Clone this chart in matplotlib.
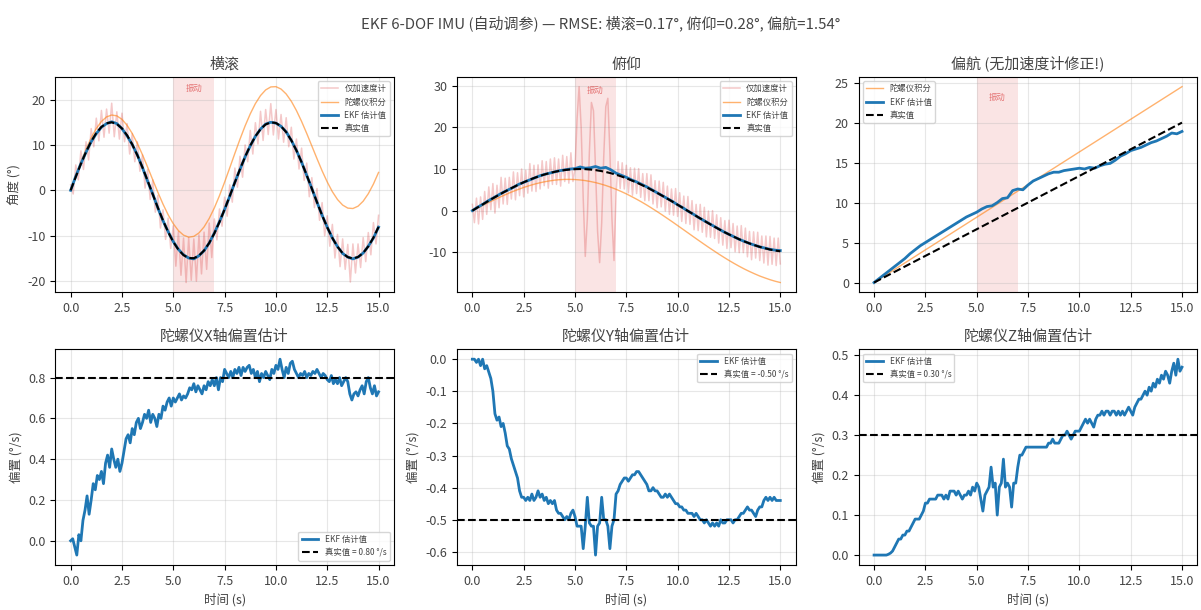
import numpy as np
import matplotlib

matplotlib.use("Agg")
import matplotlib.pyplot as plt
from matplotlib.ticker import MultipleLocator

plt.rcParams["font.family"] = ["Noto Sans CJK SC", "DejaVu Sans"]
plt.rcParams["font.size"] = 9
plt.rcParams["font.weight"] = "light"
plt.rcParams["axes.titleweight"] = "light"
plt.rcParams["axes.labelweight"] = "light"
plt.rcParams["figure.titleweight"] = "light"
plt.rcParams["axes.unicode_minus"] = False
for key in ("text.color", "axes.labelcolor", "xtick.labelcolor", "ytick.labelcolor"):
    plt.rcParams[key] = "#444444"

# vibration window (s)
VIB_START, VIB_END = 5.0, 7.0

# RMSE of the EKF angles (deg)
RMSE_ROLL, RMSE_PITCH, RMSE_YAW = 0.17, 0.28, 1.54

# ---- roll (deg) ----
# accelerometer-only roll, 0.125 s steps
ROLL_ACC = [
    1.2, -0.8, 5.6, 2.3, 8.7, 4.6, 10.7, 6.7, 13.6, 9.6,
    15.9, 10.9, 17.6, 11.7, 17.9, 12.6, 19.2, 11.8, 17.3, 11.3,
    17.0, 10.7, 14.7, 8.0, 12.5, 6.3, 10.7, 4.2, 7.8, 0.5,
    4.6, -2.0, 2.3, -4.8, -1.1, -8.3, -4.3, -10.8, -6.1, -12.8,
    -7.8, -16.7, -9.1, -18.7, -10.5, -20.3, -10.4, -19.8, -10.7, -20.0,
    -9.8, -18.4, -9.2, -17.4, -7.2, -14.8, -6.3, -10.9, -4.1, -7.9,
    -1.5, -5.7, 1.2, -2.6, 4.9, 0.7, 7.5, 2.9, 10.0, 6.3,
    13.2, 8.0, 14.9, 10.2, 17.4, 11.0, 17.8, 12.3, 19.1, 12.2,
    17.8, 11.3, 16.7, 10.6, 16.0, 9.6, 13.9, 6.9, 11.3, 4.7,
    9.3, 2.2, 6.0, -1.4, 2.8, -3.8, 0.4, -6.6, -2.7, -10.0,
    -5.6, -12.3, -7.5, -14.9, -9.7, -16.8, -10.7, -17.4, -11.9, -20.2,
    -11.8, -18.2, -11.8, -17.0, -10.4, -15.7, -9.3, -14.2, -7.1, -11.8,
    -5.5,
]
# gyro-integrated roll, 0.25 s steps
ROLL_GYRO = [
    0.0, 3.18, 6.24, 9.07, 11.56, 13.62, 15.18, 16.18, 16.59, 16.41,
    15.64, 14.33, 12.53, 10.33, 7.83, 5.12, 2.32, -0.43, -3.04, -5.38,
    -7.35, -8.87, -9.87, -10.31, -10.14, -9.38, -8.05, -6.19, -3.87, -1.17,
    1.81, 4.95, 8.15, 11.27, 14.21, 16.85, 19.11, 20.88, 22.12, 22.78,
    22.84, 22.31, 21.22, 19.62, 17.57, 15.18, 12.54, 9.77, 6.99, 4.30,
    1.84, -0.30, -2.02, -3.24, -3.91, -4.00, -3.49, -2.39, -0.74, 1.39,
    3.95,
]
ROLL_EKF = [
    0.0, 3.1, 5.9, 8.4, 10.7, 12.5, 13.9, 14.7, 15.1, 14.7,
    13.6, 12.0, 10.1, 7.8, 5.0, 2.0, -0.8, -3.9, -6.7, -9.1,
    -11.3, -13.0, -14.2, -14.9, -15.1, -14.4, -13.3, -11.6, -9.4, -6.9,
    -4.2, -1.3, 1.8, 4.6, 7.4, 9.8, 11.9, 13.5, 14.6, 15.0,
    14.8, 14.1, 12.9, 11.0, 8.8, 6.2, 3.3, 0.4, -2.6, -5.5,
    -8.1, -10.5, -12.4, -13.9, -14.7, -15.1, -14.7, -13.8, -12.3, -10.5,
    -8.1,
]
ROLL_TRUE = [
    0.0, 2.98, 5.84, 8.47, 10.76, 12.62, 13.98, 14.78, 14.99, 14.61,
    13.64, 12.13, 10.13, 7.73, 5.03, 2.12, -0.88, -3.83, -6.64, -9.18,
    -11.35, -13.07, -14.27, -14.91, -14.94, -14.38, -13.25, -11.59, -9.47, -6.97,
    -4.19, -1.25, 1.75, 4.67, 7.41, 9.85, 11.91, 13.48, 14.52, 14.98,
    14.84, 14.11, 12.82, 11.02, 8.77, 6.18, 3.34, 0.37, -2.61, -5.50,
    -8.16, -10.50, -12.42, -13.84, -14.71, -15.00, -14.69, -13.79, -12.34, -10.41,
    -8.05,
]

# ---- pitch (deg) ----
# accelerometer-only pitch, 0.1 s steps
PITCH_ACC = [
    1.5, -2.9, 3.0, -3.2, 3.3, -2.1, 4.6, -0.9, 5.7, 0.2,
    6.5, -0.6, 6.1, 0.7, 8.0, 1.6, 7.8, 1.5, 8.0, 2.8,
    9.3, 2.6, 9.1, 3.6, 10.0, 3.3, 9.7, 4.2, 11.3, 4.7,
    10.9, 4.6, 11.0, 5.2, 12.0, 6.0, 11.8, 5.4, 12.4, 6.3,
    12.7, 6.3, 12.4, 5.9, 13.3, 7.0, 13.0, 6.6, 13.9, 7.0,
    10.0, 22.0, 29.8, 20.0, 3.0, -11.0, -2.0, 14.0, 26.0, 24.0,
    10.0, -5.0, -12.5, -3.0, 13.0, 25.0, 27.0, 14.0, -2.0, -12.0,
    4.0, 11.8, 5.3, 11.5, 5.2, 10.9, 4.3, 10.3, 3.7, 10.2,
    4.1, 10.1, 3.2, 8.9, 2.4, 8.9, 2.4, 8.6, 1.6, 7.2,
    0.7, 7.1, 0.9, 6.8, -0.1, 5.9, -0.9, 5.2, -1.1, 5.3,
    -1.4, 4.3, -2.6, 3.5, -3.1, 3.4, -3.3, 2.4, -4.6, 1.5,
    -4.8, 1.5, -5.2, 0.8, -6.3, -0.1, -6.4, 0.0, -6.7, -1.0,
    -7.8, -1.7, -8.3, -2.4, -9.1, -2.3, -8.9, -3.1, -9.9, -3.7,
    -10.1, -3.6, -10.1, -4.2, -11.1, -5.0, -11.8, -5.1, -11.4, -5.2,
    -12.0, -6.1, -12.6, -6.1, -13.1, -6.2, -12.9, -6.6, -13.2, -6.6,
    -12.8,
]
# gyro-integrated pitch, 0.25 s steps
PITCH_GYRO = [
    0.0, 0.62, 1.24, 1.86, 2.46, 3.04, 3.60, 4.14, 4.65, 5.12,
    5.57, 5.97, 6.33, 6.65, 6.92, 7.14, 7.32, 7.44, 7.51, 7.51,
    7.47, 7.37, 7.22, 7.00, 6.74, 6.41, 6.04, 5.61, 5.13, 4.60,
    4.03, 3.40, 2.75, 2.06, 1.33, 0.56, -0.23, -1.04, -1.88, -2.72,
    -3.59, -4.46, -5.33, -6.21, -7.08, -7.94, -8.79, -9.61, -10.43, -11.21,
    -11.97, -12.69, -13.38, -14.03, -14.63, -15.19, -15.72, -16.17, -16.60, -16.97,
    -17.28,
]
PITCH_EKF = [
    0.0, 0.8, 1.5, 2.3, 3.0, 3.7, 4.4, 5.0, 5.6, 6.3,
    6.8, 7.3, 7.8, 8.3, 8.7, 9.0, 9.3, 9.6, 9.8, 10.0,
    10.1, 10.5, 10.2, 10.3, 10.6, 10.2, 10.4, 9.8, 9.0, 8.5,
    8.0, 7.4, 6.9, 6.3, 5.7, 5.0, 4.3, 3.6, 2.9, 2.2,
    1.4, 0.7, -0.1, -0.8, -1.6, -2.3, -3.0, -3.7, -4.4, -5.1,
    -5.7, -6.3, -6.9, -7.4, -7.9, -8.3, -8.7, -9.0, -9.3, -9.5,
    -9.6,
]
PITCH_TRUE = [
    0.0, 0.75, 1.49, 2.23, 2.96, 3.66, 4.35, 5.01, 5.65, 6.25,
    6.82, 7.35, 7.83, 8.28, 8.67, 9.02, 9.32, 9.57, 9.76, 9.89,
    9.97, 10.00, 9.97, 9.88, 9.74, 9.54, 9.29, 8.99, 8.63, 8.23,
    7.78, 7.28, 6.75, 6.18, 5.58, 4.94, 4.27, 3.58, 2.87, 2.15,
    1.41, 0.67, -0.08, -0.83, -1.58, -2.31, -3.04, -3.74, -4.43, -5.09,
    -5.72, -6.31, -6.88, -7.40, -7.88, -8.31, -8.72, -9.04, -9.35, -9.59,
    -9.78,
]

# ---- yaw (deg) ----
YAW_GYRO = [0.0, 24.5]
YAW_TRUE = [0.0, 20.0]
YAW_EKF = [
    0.0, 0.5, 1.0, 1.5, 2.0, 2.5, 3.0, 3.6, 4.1, 4.6,
    5.0, 5.4, 5.8, 6.2, 6.6, 7.0, 7.4, 7.8, 8.2, 8.5,
    8.8, 9.2, 9.5, 9.6, 10.0, 10.5, 10.6, 11.5, 11.7, 11.6,
    12.2, 12.7, 13.0, 13.3, 13.6, 13.8, 13.8, 14.0, 14.1, 14.2,
    14.3, 14.2, 14.4, 14.3, 14.6, 14.8, 14.9, 15.3, 15.8, 16.1,
    16.5, 16.7, 16.9, 17.2, 17.5, 17.7, 18.0, 18.3, 18.7, 18.6,
    18.9,
]

# ---- gyro bias estimates (deg/s), 0.1 s steps ----
BIAS_X = [
    0.0, 0.01, -0.03, -0.07, 0.03, 0.0, 0.10, 0.15, 0.22, 0.13,
    0.20, 0.28, 0.25, 0.32, 0.30, 0.34, 0.28, 0.38, 0.42, 0.36,
    0.45, 0.40, 0.36, 0.40, 0.34, 0.38, 0.44, 0.50, 0.52, 0.48,
    0.55, 0.52, 0.58, 0.60, 0.55, 0.58, 0.62, 0.60, 0.64, 0.58,
    0.62, 0.60, 0.56, 0.62, 0.60, 0.66, 0.64, 0.68, 0.70, 0.66,
    0.70, 0.68, 0.70, 0.72, 0.69, 0.71, 0.70, 0.72, 0.75, 0.74,
    0.77, 0.73, 0.76, 0.74, 0.72, 0.76, 0.74, 0.78, 0.76, 0.79,
    0.76, 0.80, 0.74, 0.80, 0.78, 0.84, 0.82, 0.80, 0.83, 0.80,
    0.84, 0.82, 0.85, 0.81, 0.85, 0.83, 0.85, 0.86, 0.82, 0.84,
    0.80, 0.83, 0.78, 0.82, 0.80, 0.83, 0.81, 0.79, 0.84, 0.82,
    0.86, 0.84, 0.89, 0.84, 0.80, 0.85, 0.82, 0.87, 0.88, 0.84,
    0.82, 0.80, 0.82, 0.81, 0.83, 0.80, 0.82, 0.81, 0.83, 0.82,
    0.84, 0.82, 0.80, 0.82, 0.81, 0.79, 0.78, 0.81, 0.77, 0.79,
    0.77, 0.80, 0.76, 0.78, 0.80, 0.78, 0.72, 0.69, 0.72, 0.73,
    0.71, 0.74, 0.76, 0.72, 0.78, 0.80, 0.75, 0.72, 0.76, 0.71,
    0.73,
]
BIAS_Y = [
    0.0, 0.0, -0.01, 0.0, -0.02, 0.0, -0.03, -0.02, -0.04, -0.06,
    -0.10, -0.17, -0.19, -0.18, -0.21, -0.20, -0.23, -0.27, -0.28, -0.31,
    -0.33, -0.35, -0.37, -0.41, -0.43, -0.43, -0.44, -0.43, -0.44, -0.42,
    -0.44, -0.43, -0.41, -0.43, -0.42, -0.44, -0.43, -0.45, -0.44, -0.45,
    -0.44, -0.47, -0.48, -0.48, -0.49, -0.50, -0.49, -0.50, -0.48, -0.47,
    -0.49, -0.52, -0.52, -0.52, -0.59, -0.52, -0.43, -0.51, -0.52, -0.52,
    -0.61, -0.52, -0.51, -0.43, -0.50, -0.50, -0.52, -0.59, -0.52, -0.50,
    -0.42, -0.41, -0.39, -0.38, -0.37, -0.37, -0.38, -0.37, -0.36, -0.36,
    -0.35, -0.35, -0.36, -0.37, -0.38, -0.39, -0.41, -0.41, -0.40, -0.41,
    -0.41, -0.42, -0.43, -0.43, -0.42, -0.43, -0.42, -0.43, -0.44, -0.45,
    -0.45, -0.46, -0.46, -0.47, -0.47, -0.48, -0.48, -0.48, -0.49, -0.48,
    -0.49, -0.50, -0.50, -0.51, -0.50, -0.51, -0.52, -0.51, -0.52, -0.51,
    -0.52, -0.50, -0.51, -0.51, -0.50, -0.50, -0.50, -0.51, -0.50, -0.50,
    -0.49, -0.48, -0.48, -0.47, -0.46, -0.47, -0.47, -0.48, -0.49, -0.47,
    -0.46, -0.46, -0.44, -0.43, -0.44, -0.43, -0.44, -0.43, -0.44, -0.44,
    -0.44,
]
BIAS_Z = [
    0.0, 0.0, 0.0, 0.0, 0.0, 0.0, 0.0, 0.002, 0.005, 0.01,
    0.02, 0.03, 0.04, 0.04, 0.05, 0.05, 0.06, 0.06, 0.07, 0.08,
    0.09, 0.09, 0.09, 0.10, 0.11, 0.13, 0.13, 0.14, 0.14, 0.14,
    0.14, 0.15, 0.15, 0.15, 0.14, 0.15, 0.14, 0.16, 0.16, 0.16,
    0.15, 0.16, 0.15, 0.14, 0.15, 0.15, 0.16, 0.15, 0.17, 0.16,
    0.18, 0.17, 0.14, 0.11, 0.15, 0.16, 0.17, 0.22, 0.17, 0.18,
    0.10, 0.17, 0.18, 0.24, 0.17, 0.18, 0.17, 0.12, 0.18, 0.18,
    0.22, 0.25, 0.25, 0.26, 0.27, 0.27, 0.27, 0.27, 0.27, 0.27,
    0.27, 0.27, 0.27, 0.27, 0.27, 0.28, 0.28, 0.29, 0.28, 0.28,
    0.28, 0.29, 0.30, 0.30, 0.31, 0.30, 0.29, 0.30, 0.31, 0.31,
    0.31, 0.32, 0.33, 0.34, 0.33, 0.34, 0.33, 0.32, 0.34, 0.35,
    0.35, 0.36, 0.35, 0.36, 0.36, 0.35, 0.36, 0.36, 0.35, 0.36,
    0.35, 0.36, 0.35, 0.36, 0.37, 0.36, 0.35, 0.37, 0.38, 0.39,
    0.39, 0.40, 0.41, 0.40, 0.42, 0.41, 0.43, 0.42, 0.44, 0.43,
    0.45, 0.44, 0.46, 0.45, 0.43, 0.46, 0.48, 0.45, 0.49, 0.46,
    0.47,
]
BIAS_TRUE = {"X": 0.80, "Y": -0.50, "Z": 0.30}

T_END = 15.0


def tgrid(values):
    return np.linspace(0.0, T_END, len(values))


def mark_vibration(ax):
    ax.axvspan(VIB_START, VIB_END, color="tab:red", alpha=0.12, lw=0)
    ax.text((VIB_START + VIB_END) / 2, ax.get_ylim()[1] * 0.9, "振动",
            ha="center", va="center", fontsize=6, color="tab:red", alpha=0.6)


def finish_axes(ax):
    ax.xaxis.set_major_locator(MultipleLocator(2.5))
    ax.grid(True, alpha=0.3)


def angle_panel(ax, title, gyro, ekf, truth, acc=None, loc="upper right"):
    if acc is not None:
        ax.plot(tgrid(acc), acc, color="tab:red", alpha=0.25, lw=1.1, label="仅加速度计")
    ax.plot(tgrid(gyro), gyro, color="tab:orange", alpha=0.6, lw=1.0, label="陀螺仪积分")
    ax.plot(tgrid(ekf), ekf, color="tab:blue", lw=2.0, label="EKF 估计值")
    ax.plot(tgrid(truth), truth, "k--", lw=1.5, label="真实值")
    mark_vibration(ax)
    ax.set_title(title, fontsize="large")
    ax.legend(loc=loc, fontsize=6)
    finish_axes(ax)


def bias_panel(ax, axis_name, est, loc):
    ax.plot(tgrid(est), est, color="tab:blue", lw=2.0, label="EKF 估计值")
    ax.axhline(BIAS_TRUE[axis_name], color="k", ls="--", lw=1.5,
               label=f"真实值 = {BIAS_TRUE[axis_name]:.2f} °/s")
    ax.set_title(f"陀螺仪{axis_name}轴偏置估计", fontsize="large")
    ax.set_xlabel("时间 (s)")
    ax.set_ylabel("偏置 (°/s)")
    ax.legend(loc=loc, fontsize=6)
    finish_axes(ax)


fig, axes = plt.subplots(2, 3, figsize=(12.01, 6.10), dpi=100)

angle_panel(axes[0, 0], "横滚", ROLL_GYRO, ROLL_EKF, ROLL_TRUE, acc=ROLL_ACC)
axes[0, 0].set_ylabel("角度 (°)")
angle_panel(axes[0, 1], "俯仰", PITCH_GYRO, PITCH_EKF, PITCH_TRUE, acc=PITCH_ACC)
angle_panel(axes[0, 2], "偏航 (无加速度计修正!)", YAW_GYRO, YAW_EKF, YAW_TRUE, loc="upper left")

bias_panel(axes[1, 0], "X", BIAS_X, "lower right")
bias_panel(axes[1, 1], "Y", BIAS_Y, "upper right")
bias_panel(axes[1, 2], "Z", BIAS_Z, "upper left")

fig.suptitle(f"EKF 6-DOF IMU (自动调参) — RMSE: 横滚={RMSE_ROLL:.2f}°, "
             f"俯仰={RMSE_PITCH:.2f}°, 偏航={RMSE_YAW:.2f}°", fontsize="large", y=0.975)
fig.subplots_adjust(left=0.046, right=0.997, top=0.874, bottom=0.074,
                    wspace=0.186, hspace=0.265)
fig.savefig("out.png")
